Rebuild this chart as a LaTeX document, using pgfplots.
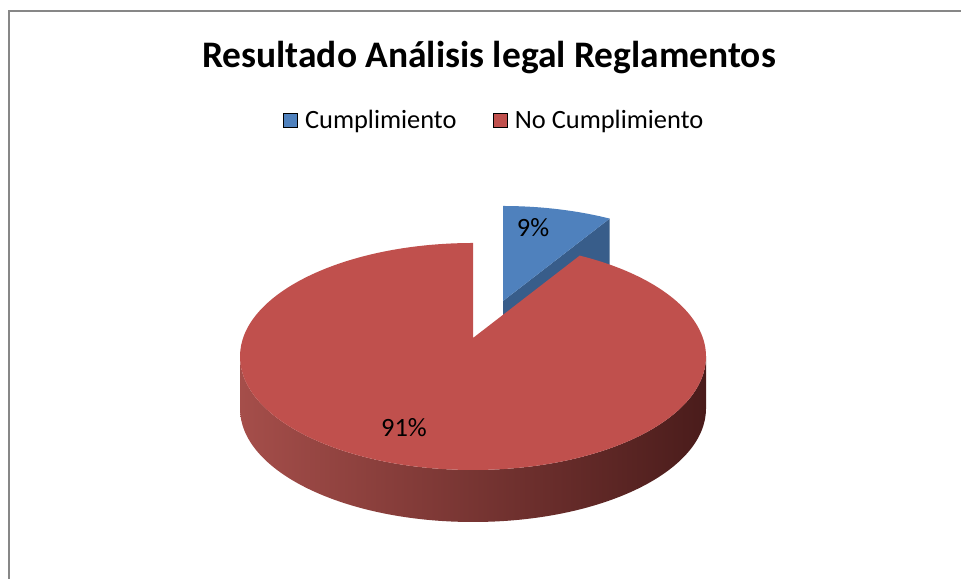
\documentclass[border=0pt]{standalone}
\usepackage{pgfplots}
\usepackage{pgfplotstable}
\pgfplotsset{compat=1.18}
\usepackage{fontspec}
\setmainfont{Carlito}
\definecolor{blueTop}{HTML}{4F81BD}
\definecolor{blueSide}{HTML}{385D8A}
\definecolor{redTop}{HTML}{C0504D}
\definecolor{redL}{HTML}{A54E4A}
\definecolor{redM}{HTML}{6E2D2B}
\definecolor{redR}{HTML}{4A1C1B}
\definecolor{frameC}{HTML}{878787}

\pgfplotstableread{
label value
Cumplimiento 9
NoCumplimiento 91
}\piedata

\begin{document}
\begin{tikzpicture}
\pgfplotstablegetelem{0}{value}\of\piedata \let\va\pgfplotsretval
\pgfplotstablegetelem{1}{value}\of\piedata \let\vb\pgfplotsretval
% angle of the cut, clockwise from 12 o'clock
\pgfmathsetmacro\th{360*\va/(\va+\vb)}
% perspective: the centre of the disc is drawn 19 units above the centre of the ellipse
\pgfmathsetmacro\k{19/113.5}
\pgfmathsetmacro\tt{-\k*cos(\th)+sqrt((\k*cos(\th))^2-\k*\k+1)}
\pgfmathsetmacro\phiB{atan2(\k+\tt*cos(\th),\tt*sin(\th))}
\pgfmathsetmacro\phiR{360+\phiB}
\pgfmathsetmacro\bx{503+233*cos(\phiB)}
\pgfmathsetmacro\by{259.5+113.5*sin(\phiB)}
\pgfmathsetmacro\byl{\by-52}
\begin{axis}[
  x=1bp, y=1bp,
  xmin=0, xmax=961, ymin=0, ymax=579,
  hide axis,
  legend columns=2,
  legend image code/.code={\fill[#1] (0bp,-7bp) rectangle (14bp,7bp);},
  legend style={at={(axis cs:494,459)}, anchor=center, draw=none, fill=none,
    font=\fontsize{26.5}{30}\selectfont,
    /tikz/every odd column/.append style={column sep=6bp},
    /tikz/every even column/.append style={column sep=34bp}},
]
\path (axis cs:0,0) rectangle (axis cs:961,579);
% frame
\draw[frameC, line width=2bp] (axis cs:9,0) -- (axis cs:9,568) -- (axis cs:961,568);
% title
\node[anchor=base, font=\fontsize{37.6}{44}\selectfont\bfseries] at (axis cs:489,511) {Resultado Análisis legal Reglamentos};
\addlegendimage{fill=blueTop}
\addlegendentry{Cumplimiento}
\addlegendimage{fill=redTop}
\addlegendentry{No Cumplimiento}
% exploded blue slice: radial side, then top face
\fill[blueSide] (axis cs:503,278) -- (axis cs:\bx,\by) -- (axis cs:\bx,\byl) -- (axis cs:503,226) -- cycle;
\fill[blueTop] (axis cs:503,278) -- (axis cs:\bx,\by) arc[start angle=\phiB, end angle=90, x radius=233bp, y radius=113.5bp] -- cycle;
% red slice: side then top face
\shade[left color=redL, middle color=redM, right color=redR]
  (axis cs:240,222.5) arc[start angle=180, end angle=360, x radius=233bp, y radius=113.5bp]
  -- ++(0bp,-52bp) arc[start angle=360, end angle=180, x radius=233bp, y radius=113.5bp] -- cycle;
\fill[redTop] (axis cs:473,241) -- (axis cs:473,336) arc[start angle=90, end angle=\phiR, x radius=233bp, y radius=113.5bp] -- cycle;
% data labels
\node[font=\fontsize{26.5}{30}\selectfont] at (axis cs:533,351) {\va\%};
\node[font=\fontsize{26.5}{30}\selectfont] at (axis cs:404,151) {\vb\%};
\end{axis}
\end{tikzpicture}
\end{document}
